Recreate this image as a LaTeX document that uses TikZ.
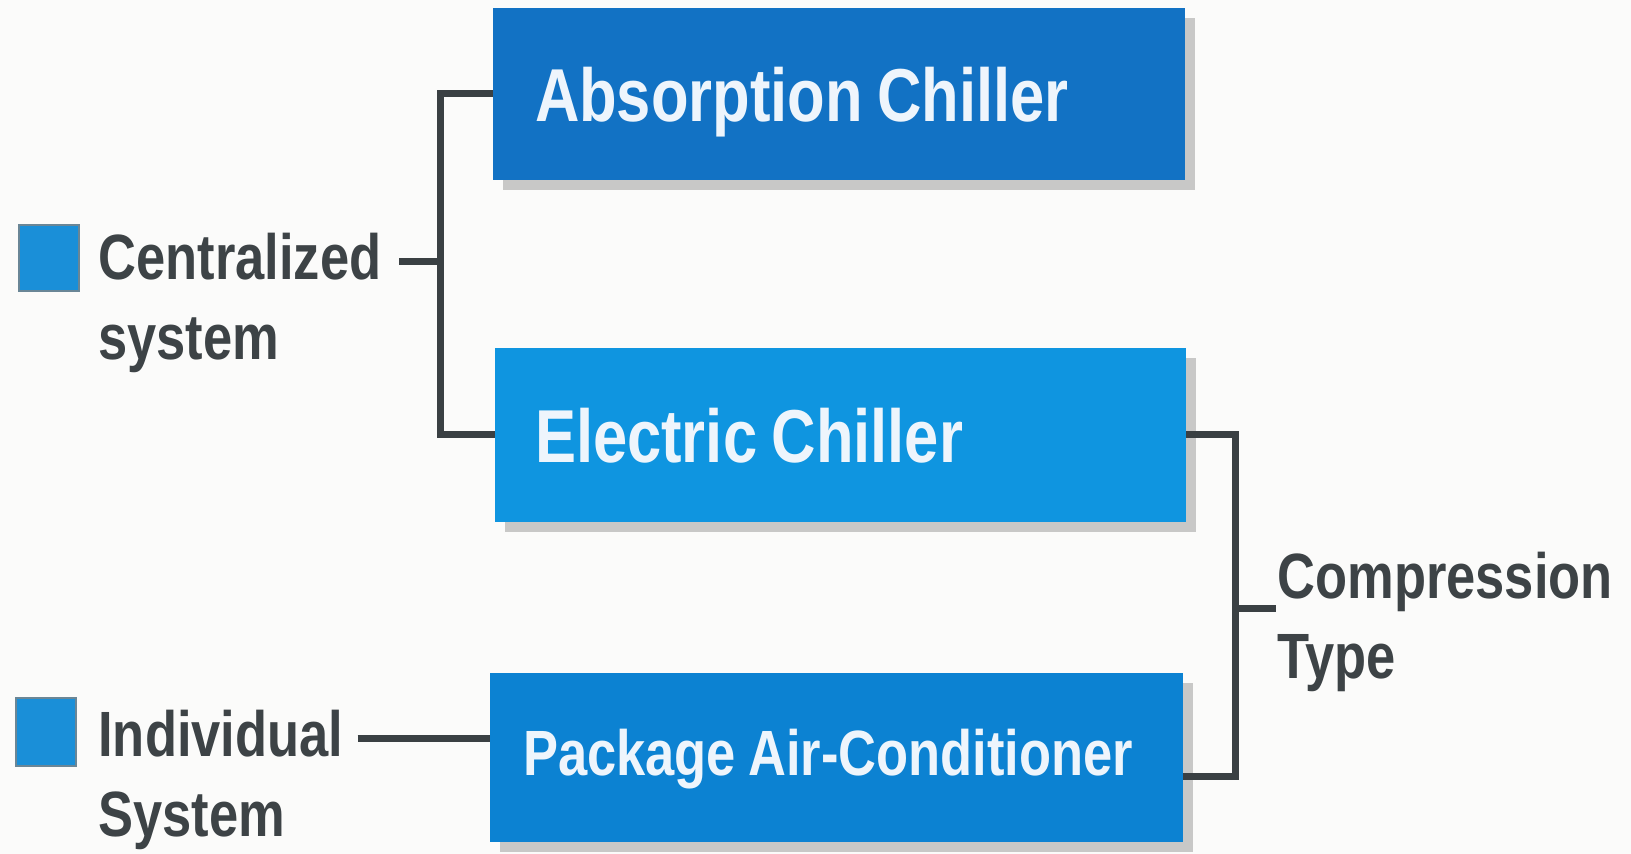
\documentclass[tikz,border=0pt]{standalone}
\usepackage{fontspec}
\setmainfont{Liberation Sans}[FakeStretch=0.82,WordSpace=0.85]
\usetikzlibrary{shadows,calc}
\definecolor{absblue}{HTML}{1272C4}
\definecolor{eleblue}{HTML}{0F95E0}
\definecolor{pacblue}{HTML}{0C82D2}
\definecolor{txtgray}{HTML}{3D4346}
\definecolor{lngray}{HTML}{3A4043}
\definecolor{sqblue}{HTML}{1A8FD8}
\definecolor{sqedge}{HTML}{6A8696}
\definecolor{boxtxt}{HTML}{EEF5FC}
\definecolor{bgcol}{HTML}{FBFBFA}
\begin{document}
\begin{tikzpicture}[x=0.5pt,y=-0.5pt,
  chbox/.style={draw=none, rectangle, text=boxtxt,
    font=\bfseries\fontsize{37.5}{45}\selectfont,
    drop shadow={shadow xshift=5pt,shadow yshift=-5pt,fill=black!35,opacity=0.6},
    inner ysep=0pt, text depth=0pt},
  conn/.style={draw=lngray, line width=3.5pt},
  lbl/.style={anchor=north west, align=left, text=txtgray,
    font=\bfseries\fontsize{32}{40}\selectfont, inner ysep=0pt},
  bullet/.style={draw=sqedge, fill=sqblue, line width=1pt, inner sep=0pt, anchor=north west}
]
\path[use as bounding box, fill=bgcol] (0,0) rectangle (1631,854);

% boxes
\node[chbox, fill=absblue, minimum width=346pt, minimum height=86pt,
      inner xsep=21pt, text height=28pt] (abs) at (839,94)
      {\makebox[304pt][l]{Absorption Chiller}};
\node[chbox, fill=eleblue, minimum width=345.5pt, minimum height=87pt,
      inner xsep=20pt, text height=28pt] (ele) at (840.5,435)
      {\makebox[305.5pt][l]{Electric Chiller}};
\node[chbox, fill=pacblue, minimum width=346.5pt, minimum height=84.5pt,
      inner xsep=16.5pt, text height=17.5pt,
      font=\bfseries\fontsize{32}{40}\selectfont] (pac) at (836.5,757.5)
      {\makebox[313.5pt][l]{Package Air-Conditioner}};

% labels
\node[lbl, inner xsep=8.5pt] (cen) at (81,233) {Centralized\\system};
\node[lbl, inner xsep=7pt] (ind) at (84,710) {Individual\\System};
\node[lbl, inner xsep=0.5pt] (comp) at (1276,552) {Compression\\Type};

% bullets
\node[bullet, minimum width=30pt, minimum height=33pt] (sq1) at (18,224) {};
\node[bullet, minimum width=30pt, minimum height=34pt] (sq2) at (15,697) {};

% connectors
\coordinate (lb) at (440,262);
\draw[conn] (abs.west) -| (lb) |- (ele.west);
\draw[conn] (lb) -- (cen.east |- lb);

\coordinate (rb) at (1235,608);
\coordinate (pacr) at ($(pac.east)+(0,18.5)$);
\draw[conn] (ele.east) -| (rb) |- (pacr);
\draw[conn] (rb) -- (comp.west |- rb);

\coordinate (pacl) at ($(pac.west)+(0,-19.5)$);
\draw[conn] (ind.east |- pacl) -- (pacl);
\end{tikzpicture}
\end{document}
